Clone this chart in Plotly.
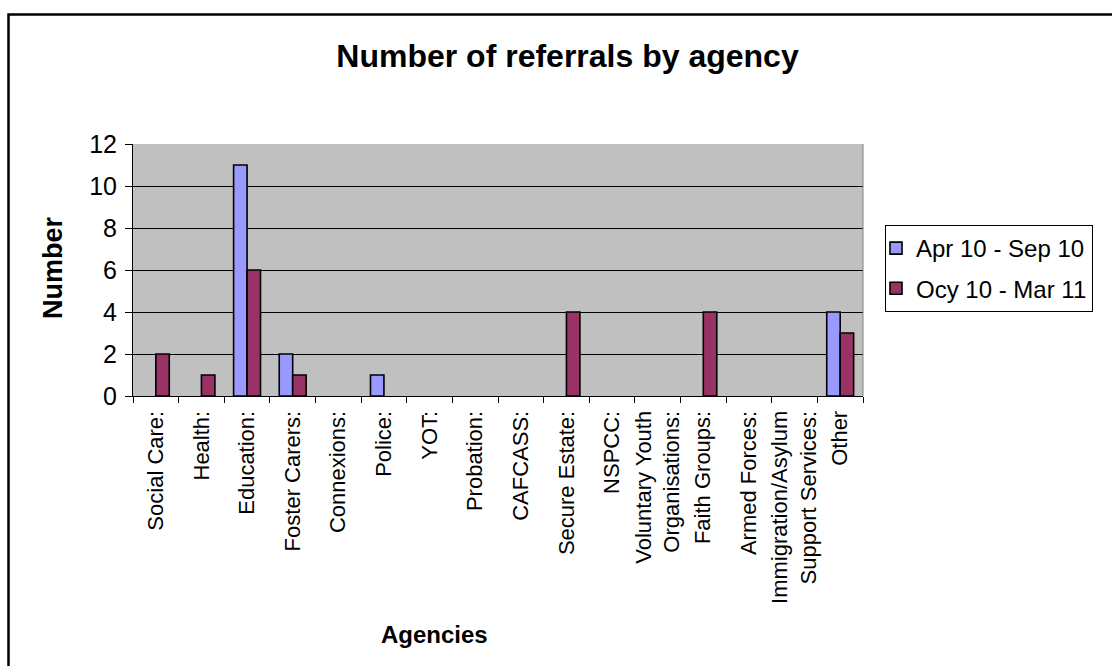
import plotly.graph_objects as go

# ---- data ----
categories = ["Social Care:", "Health:", "Education:", "Foster Carers:", "Connexions:",
              "Police:", "YOT:", "Probation:", "CAFCASS:", "Secure Estate:", "NSPCC:",
              "Voluntary Youth<br>Organisations:", "Faith Groups:", "Armed Forces:",
              "Immigration/Asylum<br>Support Services:", "Other"]
series_names = ["Apr 10 - Sep 10", "Ocy 10 - Mar 11"]
apr_sep = [0, 0, 11, 2, 0, 1, 0, 0, 0, 0, 0, 0, 0, 0, 0, 4]
oct_mar = [2, 1, 6, 1, 0, 0, 0, 0, 0, 4, 0, 0, 4, 0, 0, 3]
y_ticks = [0, 2, 4, 6, 8, 10, 12]

FONT = "Liberation Sans, Arial, sans-serif"
W, H = 1112, 666
L, R, T, B = 133, 249, 144, 270
PW, PH = W - L - R, H - T - B

def px_x(p):
    return (p - L) / PW

def px_y(p):
    return (H - B - p) / PH

def drawn(vals):
    # empty (zero) bars are not drawn, as in the source chart
    return [v if v else None for v in vals]

fig = go.Figure()
fig.add_trace(go.Bar(x=categories, y=drawn(apr_sep), name=series_names[0], legendgroup="a",
                     marker=dict(color="#9999FF", line=dict(color="black", width=1.6))))
fig.add_trace(go.Bar(x=categories, y=drawn(oct_mar), name=series_names[1], legendgroup="b",
                     marker=dict(color="#993366", line=dict(color="black", width=1.6))))

fig.update_layout(
    width=W, height=H,
    margin=dict(l=L, r=R, t=T, b=B, autoexpand=False),
    paper_bgcolor="white",
    plot_bgcolor="#C0C0C0",
    font=dict(family=FONT, color="black"),
    barmode="group",
    bargap=0.41,
    bargroupgap=0,
    title=dict(text="<b>Number of referrals by agency</b>", x=567.5 / W, xanchor="center",
               y=1 - 56 / H, yanchor="middle", font=dict(size=32, family=FONT, color="black")),
    showlegend=True,
    legend=dict(x=px_x(885), xanchor="left", y=px_y(225), yanchor="top",
                bgcolor="white", bordercolor="black", borderwidth=1,
                font=dict(size=24, family=FONT, color="black"),
                traceorder="grouped", tracegroupgap=6, indentation=-10),
)

fig.update_xaxes(
    type="category", tickangle=-90, tickfont=dict(size=22, family=FONT, color="black"),
    showline=True, linecolor="black", linewidth=1,
    ticks="outside", tickson="boundaries", ticklen=6, tickcolor="black",
    ticklabelstandoff=5,
    showgrid=False, zeroline=False,
)
fig.update_yaxes(
    range=[0, 12], tickvals=y_ticks, tickfont=dict(size=25, family=FONT, color="black"),
    showline=True, linecolor="black", linewidth=1,
    ticks="outside", ticklen=7, tickcolor="black",
    ticklabelstandoff=3,
    showgrid=True, gridcolor="black", gridwidth=1, zeroline=False,
)

# axis titles
fig.add_annotation(text="<b>Number</b>", xref="paper", yref="paper", x=px_x(53), y=px_y(268),
                   textangle=-90, showarrow=False, xanchor="center", yanchor="middle",
                   font=dict(size=27, family=FONT, color="black"))
fig.add_annotation(text="<b>Agencies</b>", xref="paper", yref="paper", x=px_x(434), y=px_y(634),
                   showarrow=False, xanchor="center", yanchor="middle",
                   font=dict(size=24, family=FONT, color="black"))

# plot-area right border (gray)
fig.add_shape(type="line", xref="paper", yref="paper", x0=1, x1=1, y0=0, y1=1,
              line=dict(color="#808080", width=1))
# outer chart-area border
fig.add_shape(type="rect", xref="paper", yref="paper", x0=px_x(8.5), x1=px_x(1140),
              y0=px_y(700), y1=px_y(14.5), line=dict(color="black", width=2.5))

fig.write_html("out.html", config={"displayModeBar": False})

# remove the default page margin so the figure sits at the window origin
with open("out.html", "r", encoding="utf-8") as f:
    html = f.read()
html = html.replace("<head>", "<head><style>html,body{margin:0;padding:0;overflow:hidden;}</style>", 1)
with open("out.html", "w", encoding="utf-8") as f:
    f.write(html)
